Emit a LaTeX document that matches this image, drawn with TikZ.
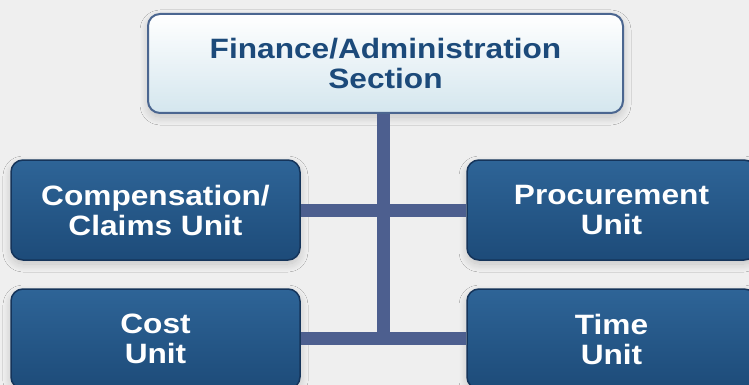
\documentclass[tikz,border=0pt]{standalone}
\usepackage{fontspec}
\newfontfamily\boxfont[FakeStretch=1.13]{Liberation Sans}
\usetikzlibrary{shadows.blur}
\definecolor{bgc}{HTML}{EFEFEF}
\definecolor{unittop}{HTML}{2E6497}
\definecolor{unitbot}{HTML}{1D4B79}
\definecolor{unitline}{HTML}{15345A}
\definecolor{headtop}{HTML}{FFFFFF}
\definecolor{headbot}{HTML}{D4E6EE}
\definecolor{headline}{HTML}{4B6690}
\definecolor{headtext}{HTML}{1C4A7A}
\definecolor{conn}{HTML}{4D5F8F}
\tikzset{
  basebox/.style={rectangle, rounded corners=12pt, align=center,
    font=\boxfont\bfseries\fontsize{28}{30}\selectfont,
    blur shadow={shadow xshift=0pt, shadow yshift=-4pt, shadow blur steps=10, shadow opacity=18, shadow blur radius=8pt},
    inner sep=0pt},
  headbox/.style={basebox, top color=headtop, bottom color=headbot, draw=headline,
    line width=2pt, text=headtext, minimum width=475pt, minimum height=99pt},
  unitbox/.style={basebox, top color=unittop, bottom color=unitbot, draw=unitline,
    line width=1.5pt, text=white, minimum width=289pt, minimum height=100pt},
  connline/.style={draw=conn, line width=13pt}
}
\begin{document}
\begin{tikzpicture}[x=1pt,y=-1pt]
\fill[bgc] (0,0) rectangle (749,385);
\useasboundingbox (0,0) rectangle (749,385);
\begin{scope}
\clip (0,0) rectangle (749,385);
\coordinate (j1) at (383,210);
\coordinate (j2) at (383,338);
\node[headbox] (fin) at (385.5,63.5) {Finance/Administration\\Section};
\node[unitbox] (comp) at (155.5,210) {Compensation/\\Claims Unit};
\node[unitbox] (proc) at (611.5,210) {Procurement\\Unit};
\node[unitbox] (cost) at (155.5,339) {Cost\\Unit};
\node[unitbox] (time) at (611.5,339) {Time\\Unit};
\draw[connline] (fin.south -| j1) -- ([yshift=-6.5pt]j2);
\draw[connline] (comp.east) -- (proc.west);
\draw[connline] (cost.east |- j2) -- (time.west |- j2);
\end{scope}
\end{tikzpicture}
\end{document}
